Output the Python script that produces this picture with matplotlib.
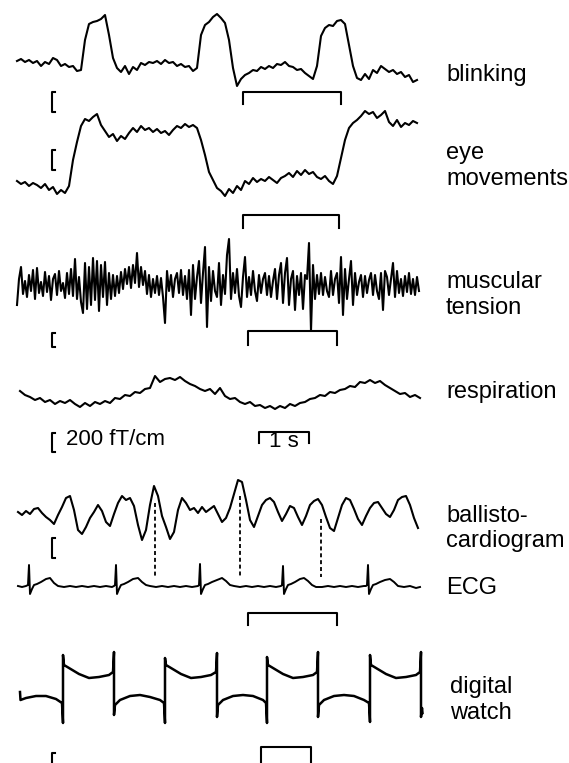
import numpy as np
import matplotlib.pyplot as plt

plt.rcParams['font.family'] = ['Liberation Sans', 'DejaVu Sans']

# MEG traces: time in s, field in fT/cm relative to each trace baseline
blinking = [
    40, 60, 30, 50, 20, 40, -10, 30, 10, 70,
    50, -10, 10, -20, -10, -60, -50, 250, 410, 430,
    440, 460, 500, 300, 70, -30, -70, -10, -90, -20,
    -50, 20, 0, 30, 20, 40, 10, 50, 20, 30,
    -10, 10, -20, -10, -60, -30, 300, 400, 430, 480,
    510, 470, 420, 250, -30, -210, -140, -100, -80, -50,
    -60, -20, -40, -10, -30, 10, 0, 30, -10, -20,
    -50, -40, -80, -110, -140, -10, 290, 370, 400, 390,
    440, 450, 410, 200, -10, -130, -150, -90, -140, -50,
    -80, -10, -40, -70, -50, -90, -70, -120, -100, -170,
    -150]

eye_movements = [
    -260, -290, -270, -310, -280, -300, -330, -290, -350, -320,
    -390, -350, -380, -310, -50, 130, 290, 360, 340, 380,
    410, 300, 240, 180, 210, 140, 190, 160, 220, 270,
    230, 290, 250, 270, 230, 260, 220, 240, 200, 250,
    290, 270, 310, 280, 300, 270, 150, 0, -170, -250,
    -330, -360, -410, -340, -380, -310, -350, -260, -290, -230,
    -270, -240, -260, -220, -250, -280, -230, -210, -180, -220,
    -160, -200, -150, -190, -170, -220, -240, -210, -260, -290,
    -210, -30, 150, 270, 320, 350, 390, 440, 410, 430,
    370, 400, 440, 330, 290, 350, 280, 320, 300, 340,
    320]

muscular_tension = [
    -200, 60, 180, -90, 40, -120, 100, -60, 150, -140,
    170, -80, 30, -110, 130, -70, 90, -150, 60, 110,
    -100, 140, -60, 20, -130, 120, -90, 160, -110, 260,
    -140, 80, -170, -280,
    220, -240, 180, -200, 270, -150, 240, -260, 200, -120,
    230, -200, 120, -140, 100,
    -110, 90, -80, 130, -40, 160, 10, 180, -30, 200,
    20, 320, -20, 180, 0, 140, -90, 100, -120, 60,
    -80, 90, -100, 70,
    -120, -380, 140, -60, 100, -120, 60, 120, -80, 150,
    -100, 90, -140, 150,
    -300, 200, -140, 80, 240, -180, 120, 380, -420, 180,
    -160, 140, -60, -120, 220, -200, 100, -90, 300, 460,
    -140, 120, -80,
    160, -110, -220, 80, 280, -120, 80, -100, 140, -60,
    -160, 100, -80, 60, 120, -100, 90, -120, 40, 160,
    -140, 100, 220, -180, 120, 270, -200, 60, 140, -250,
    90, -100, 120,
    -240, 100, 60, 420, -460, 200, -140, 100,
    -90, 120, -100, 80, -60, -120, 140, -100, 60, 120,
    -180, 280, -300, 160, -140, 60, 240, -200, 120, -100,
    30, 100, -120, 90, -80, 50, 120, -100, 100, -60,
    -140, 120, -250, 140, 80, -100, 60, 220, -120, 140,
    -80, 60, -110, 90, -70, 120, -90, 60, -100, 80,
    -60]

respiration = [
    70, 30, 10, -20, 0, -40, -20, -60, -30, -50,
    -20, -60, -90, -50, -80, -40, -60, -30, -50, 0,
    -10, 30, 20, 60, 50, 90, 100, 220, 160, 190,
    200, 180, 210, 170, 140, 120, 90, 70, 90, 40,
    100, 20, -10, 0, -40, -60, -40, -80, -70, -100,
    -80, -110, -80, -100, -60, -80, -50, -40, -10, 0,
    30, 20, 60, 50, 80, 90, 120, 110, 160, 150,
    180, 150, 170, 130, 100, 70, 40, 50, 10, 30,
    0]

ballistocardiogram = [
    30, 0, 40, 10, 60, 70, 20, -20, -50, -90,
    0, 80, 170, 190, 50, -150, -190, -120, -30, 30,
    100, 40, -70, -110, 10, 120, 190, 150, 170, 90,
    -100, -250, -150, 100, 290, 190, -10, -120, -240, -170,
    50, 170, 120, 50, 70, 20, 80, 30, 60, 90,
    10, -70, -30, 70, 210, 350, 330, 150, -50, -120,
    -10, 100, 150, 170, 130, 30, -60, 10, 90, 70,
    -20, -100, -10, 100, 140, 160, 100, -20, -130, -160,
    -30, 100, 170, 150, 60, -40, -100, -10, 70, 120,
    130, 70, 10, -20, 50, 150, 180, 190, 100, -30,
    -130]

ecg_t = [
    0.04, 0.12, 0.20, 0.24, 0.26, 0.28, 0.32, 0.36, 0.42, 0.50, 0.60, 0.68,
    0.76, 0.84, 0.96, 1.08, 1.20, 1.32, 1.44, 1.56, 1.68, 1.80, 1.92, 1.96,
    1.98, 2.00, 2.02, 2.06, 2.10, 2.16, 2.24, 2.34, 2.44, 2.52, 2.60, 2.68,
    2.80, 2.92, 3.04, 3.16, 3.28, 3.40, 3.52, 3.64,
    3.66, 3.68, 3.70, 3.74, 3.78, 3.84, 3.92, 4.02, 4.12, 4.20, 4.28, 4.36,
    4.48, 4.60, 4.72, 4.84, 4.96, 5.08, 5.20, 5.30,
    5.32, 5.34, 5.36, 5.40, 5.44, 5.50, 5.58, 5.68, 5.76, 5.84, 5.92, 6.00,
    6.12, 6.24, 6.36, 6.48, 6.60, 6.72, 6.84, 6.96, 7.00,
    7.02, 7.04, 7.06, 7.10, 7.14, 7.20, 7.28, 7.38, 7.48, 7.56, 7.64, 7.76,
    7.88, 8.00, 8.08]
ecg = [
    0, -10, 0, 10, 210, -80, -30, 10, 20, 40, 70, 80,
    30, 0, -10, 0, -10, 0, -10, 0, -10, 0, -10, 0,
    10, 210, -80, -30, 10, 20, 40, 70, 80, 40, 10, 0,
    -10, 0, -10, 0, -10, 0, -10, 0,
    10, 220, -80, -30, 10, 20, 40, 60, 80, 50, 10, 0,
    -10, 0, -10, 0, -10, 0, -10, 0,
    10, 200, -80, -30, 10, 20, 40, 70, 80, 50, 10, -10,
    -10, 0, -10, 0, -10, 0, -10, 0, 0,
    10, 210, -80, -30, 10, 20, 40, 60, 70, 40, 0, -10,
    0, -20, -10]

watch_t = [
    0.08, 0.09, 0.20, 0.40, 0.60, 0.80, 0.92, 0.94, 0.94, 0.96,
    1.06, 1.26, 1.46, 1.66, 1.86, 1.94, 1.96, 1.96, 1.98,
    2.08, 2.28, 2.48, 2.68, 2.88, 2.96, 2.98, 2.98, 3.00,
    3.10, 3.30, 3.50, 3.70, 3.90, 4.00, 4.02, 4.02, 4.04,
    4.14, 4.34, 4.54, 4.74, 4.94, 5.00, 5.02, 5.02, 5.04,
    5.14, 5.34, 5.54, 5.74, 5.94, 6.02, 6.04, 6.04, 6.06,
    6.16, 6.36, 6.56, 6.76, 6.96, 7.06, 7.08, 7.08, 7.10,
    7.20, 7.40, 7.60, 7.80, 8.00, 8.08, 8.10, 8.10, 8.12, 8.13]
watch = [
    -40, -120, -100, -80, -80, -110, -150, -350, 330, 230,
    200, 140, 100, 110, 130, 160, 360, -270, -170,
    -120, -80, -70, -90, -120, -150, -350, 300, 230,
    200, 140, 100, 110, 130, 160, 350, -290, -170,
    -120, -80, -70, -80, -120, -150, -350, 310, 230,
    200, 140, 100, 110, 130, 160, 360, -290, -170,
    -120, -80, -70, -80, -120, -150, -340, 330, 230,
    200, 140, 100, 110, 130, 160, 360, -290, -200, -250]

# ballistocardiogram peaks linked to the ECG R-waves
bcg_links = [2.78, 4.48, 6.10]

labels = ['blinking', 'eye\nmovements', 'muscular\ntension', 'respiration',
          'ballisto-\ncardiogram', 'ECG', 'digital\nwatch']

# layout (s, fT/cm)
baselines = [-650, -1550, -2850, -3980, -5150, -5860, -6880]
label_y = [-750, -1660, -2950, -3920, -5285, -5880, -7000]
label_x = [8.60, 8.60, 8.60, 8.60, 8.60, 8.60, 8.68]
amp_bars = [(-920, 200), (-1500, 200), (-3330, 140), (-4330, 190), (-5380, 200), (-7530, 200)]
time_bars = [(4.54, 6.50, -920, 120), (4.54, 6.46, -2150, 130), (4.64, 6.42, -3310, 140),
             (4.86, 5.86, -4320, 110), (4.64, 6.42, -6130, 120), (4.90, 5.90, -7470, 200)]


def main():
    fig = plt.figure(figsize=(5.69, 7.63), dpi=100)
    ax = fig.add_axes([0, 0, 1, 1])
    ax.set_xlim(-0.32, 11.06)
    ax.set_ylim(-7630, 0)
    ax.axis('off')

    uniform = [(blinking, 0.02, 8.02), (eye_movements, 0.02, 8.02),
               (muscular_tension, 0.02, 8.06), (respiration, 0.08, 8.08),
               (ballistocardiogram, 0.04, 8.04)]
    for (vals, t0, t1), base in zip(uniform, baselines):
        t = np.linspace(t0, t1, len(vals))
        ax.plot(t, np.array(vals) + base, color='black', lw=1.5)
    ax.plot(ecg_t, np.array(ecg) + baselines[5], color='black', lw=1.4)
    ax.plot(watch_t, np.array(watch) + baselines[6], color='black', lw=1.8)

    # dotted links between BCG peaks and ECG
    t_bcg = np.linspace(0.04, 8.04, len(ballistocardiogram))
    for tl in bcg_links:
        top = np.interp(tl, t_bcg, ballistocardiogram) + baselines[4] - 150
        ax.plot([tl, tl], [top, baselines[5] + 90], color='black', lw=1.3,
                ls=(0, (2.2, 1.6)))

    # amplitude scale bars "["
    for y_top, h in amp_bars:
        ax.plot([0.78, 0.72, 0.72, 0.78], [y_top, y_top, y_top - h, y_top - h],
                color='black', lw=1.5)
    # time bars
    for t0, t1, y_top, tick in time_bars:
        ax.plot([t0, t0, t1, t1], [y_top - tick, y_top, y_top, y_top - tick],
                color='black', lw=1.5)

    ax.text(1.0, -4400, '200 fT/cm', fontsize=16, va='center', ha='left')
    ax.text(5.36, -4415, '1 s', fontsize=16, va='center', ha='center')

    for lab, lx, ly in zip(labels, label_x, label_y):
        ax.text(lx, ly, lab, fontsize=17, va='center', ha='left', linespacing=1.2)

    fig.savefig('out.png', dpi=100)
    plt.close(fig)


if __name__ == '__main__':
    main()
